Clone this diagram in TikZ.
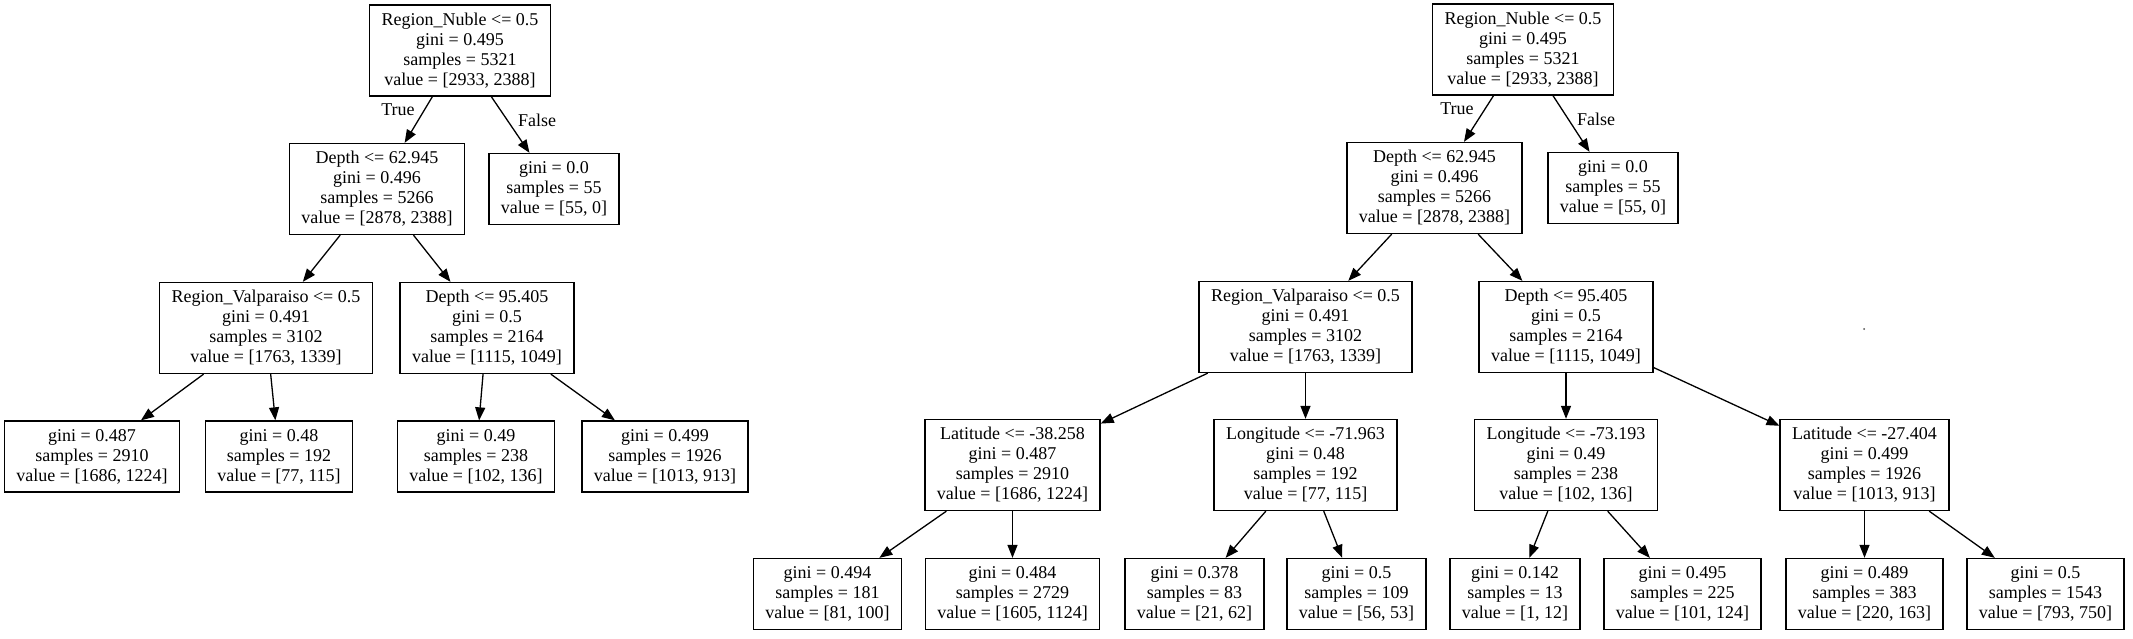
\documentclass[tikz,border=0pt]{standalone}
\usepackage{fontspec}
\setmainfont{Liberation Serif}
\usetikzlibrary{arrows.meta}
\begin{document}
\begin{tikzpicture}[x=1pt,y=-1pt,
  box/.style={draw=black, line width=1.3pt, rectangle, align=center, inner xsep=12pt, inner ysep=2pt, font=\fontsize{18}{20}\selectfont},
  split/.style={box, minimum height=91pt},
  leaf/.style={box, minimum height=71pt},
  edge/.style={draw=black, line width=1.3pt, -{Triangle[length=13pt,width=10pt]}},
  elabel/.style={font=\fontsize{18}{20}\selectfont, inner sep=0pt}
]
\useasboundingbox (0,0) rectangle (2133,639);

% ---------- left tree ----------
\node[split] (a0) at (460,50.5) {Region\_Nuble <= 0.5\\gini = 0.495\\samples = 5321\\value = [2933, 2388]};
\node[split] (a1) at (377,189) {Depth <= 62.945\\gini = 0.496\\samples = 5266\\value = [2878, 2388]};
\node[leaf]  (a2) at (554,189) {gini = 0.0\\samples = 55\\value = [55, 0]};
\node[split] (a3) at (266,328) {Region\_Valparaiso <= 0.5\\gini = 0.491\\samples = 3102\\value = [1763, 1339]};
\node[split] (a4) at (487,328) {Depth <= 95.405\\gini = 0.5\\samples = 2164\\value = [1115, 1049]};
\node[leaf]  (a5) at (92,456.5) {gini = 0.487\\samples = 2910\\value = [1686, 1224]};
\node[leaf]  (a6) at (279,456.5) {gini = 0.48\\samples = 192\\value = [77, 115]};
\node[leaf]  (a7) at (476,456.5) {gini = 0.49\\samples = 238\\value = [102, 136]};
\node[leaf]  (a8) at (665,456.5) {gini = 0.499\\samples = 1926\\value = [1013, 913]};

\draw[edge] (a0) -- (a1);
\draw[edge] (a0) -- (a2);
\draw[edge] (a1) -- (a3);
\draw[edge] (a1) -- (a4);
\draw[edge] (a3) -- (a5);
\draw[edge] (a3) -- (a6);
\draw[edge] (a4) -- (a7);
\draw[edge] (a4) -- (a8);
\node[elabel] (at) at (398,110) {True};
\node[elabel] (af) at (537,120) {False};

% ---------- right tree ----------
\node[split] (b0) at (1523,49.5) {Region\_Nuble <= 0.5\\gini = 0.495\\samples = 5321\\value = [2933, 2388]};
\node[split] (b1) at (1434.5,188) {Depth <= 62.945\\gini = 0.496\\samples = 5266\\value = [2878, 2388]};
\node[leaf]  (b2) at (1613,188) {gini = 0.0\\samples = 55\\value = [55, 0]};
\node[split] (b3) at (1305.5,327) {Region\_Valparaiso <= 0.5\\gini = 0.491\\samples = 3102\\value = [1763, 1339]};
\node[split] (b4) at (1566,327) {Depth <= 95.405\\gini = 0.5\\samples = 2164\\value = [1115, 1049]};
\node[split] (b5) at (1012.5,465) {Latitude <= -38.258\\gini = 0.487\\samples = 2910\\value = [1686, 1224]};
\node[split] (b6) at (1305.5,465) {Longitude <= -71.963\\gini = 0.48\\samples = 192\\value = [77, 115]};
\node[split] (b7) at (1566,465) {Longitude <= -73.193\\gini = 0.49\\samples = 238\\value = [102, 136]};
\node[split] (b8) at (1864.5,465) {Latitude <= -27.404\\gini = 0.499\\samples = 1926\\value = [1013, 913]};
\node[leaf]  (b9)  at (827.5,594)  {gini = 0.494\\samples = 181\\value = [81, 100]};
\node[leaf]  (b10) at (1012.5,594) {gini = 0.484\\samples = 2729\\value = [1605, 1124]};
\node[leaf]  (b11) at (1194.5,594) {gini = 0.378\\samples = 83\\value = [21, 62]};
\node[leaf]  (b12) at (1356.5,594) {gini = 0.5\\samples = 109\\value = [56, 53]};
\node[leaf]  (b13) at (1515,594) {gini = 0.142\\samples = 13\\value = [1, 12]};
\node[leaf]  (b14) at (1682.5,594) {gini = 0.495\\samples = 225\\value = [101, 124]};
\node[leaf]  (b15) at (1864.5,594) {gini = 0.489\\samples = 383\\value = [220, 163]};
\node[leaf]  (b16) at (2045.5,594) {gini = 0.5\\samples = 1543\\value = [793, 750]};

\draw[edge] (b0) -- (b1);
\draw[edge] (b0) -- (b2);
\draw[edge] (b1) -- (b3);
\draw[edge] (b1) -- (b4);
\draw[edge] (b3) -- (b5);
\draw[edge] (b3) -- (b6);
\draw[edge] (b4) -- (b7);
\draw[edge] (b4) -- (b8);
\draw[edge] (b5) -- (b9);
\draw[edge] (b5) -- (b10);
\draw[edge] (b6) -- (b11);
\draw[edge] (b6) -- (b12);
\draw[edge] (b7) -- (b13);
\draw[edge] (b7) -- (b14);
\draw[edge] (b8) -- (b15);
\draw[edge] (b8) -- (b16);
\node[elabel] (bt) at (1457,109) {True};
\node[elabel] (bf) at (1596,119) {False};

\fill[black!70] (1864,329) circle (1pt);
\end{tikzpicture}
\end{document}
